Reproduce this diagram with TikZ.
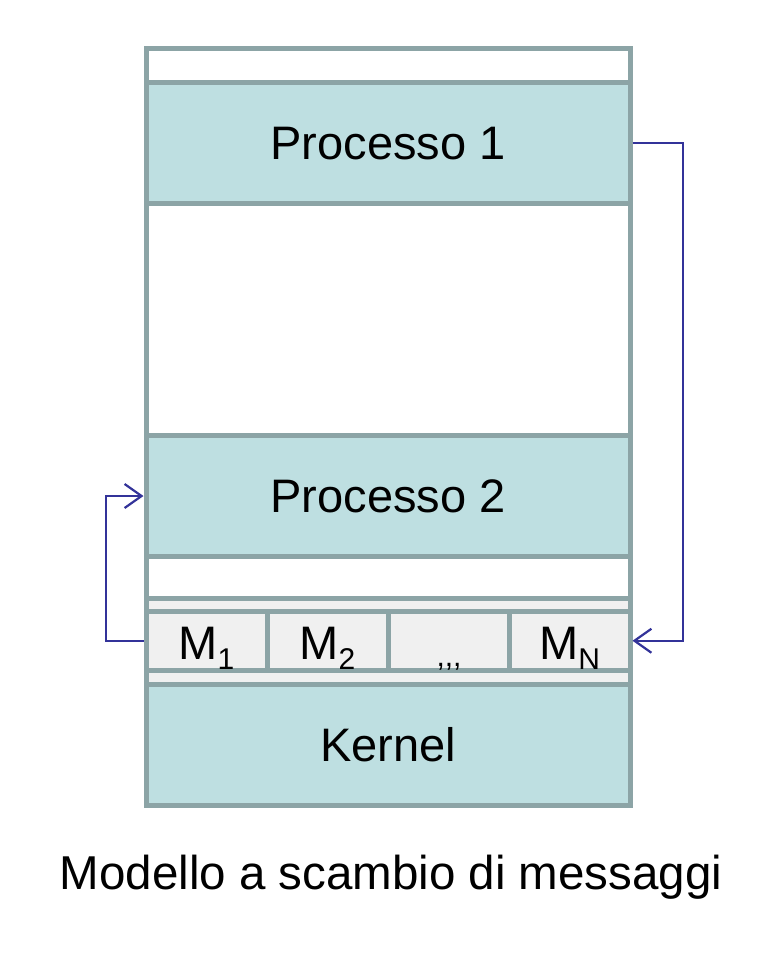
\documentclass[tikz,border=0pt]{standalone}
\usepackage{fontspec}
\setmainfont{Liberation Sans}
\usetikzlibrary{arrows.meta}
\definecolor{frameline}{HTML}{8CA4A6}
\definecolor{procfill}{HTML}{BEDFE1}
\definecolor{cellfill}{HTML}{F0F0F0}
\definecolor{arrowblue}{HTML}{333399}
\tikzset{
  blk/.style={draw=frameline, line width=5pt, rectangle, inner sep=0pt, minimum width=484pt},
  proc/.style={blk, fill=procfill, minimum height=121pt, font=\fontsize{47}{56}\selectfont},
  cell/.style={draw=frameline, line width=5pt, rectangle, inner sep=0pt, fill=cellfill,
               minimum width=121pt, minimum height=59.5pt, text height=36.5pt, text depth=0pt,
               font=\fontsize{47}{56}\selectfont},
  msg/.style={draw=arrowblue, line width=2.2pt, -{Straight Barb[length=17pt,width=24pt]}},
}
\newcommand{\sub}[1]{\raisebox{-10pt}{\fontsize{30}{30}\selectfont #1}}
\begin{document}
\begin{tikzpicture}[x=1pt,y=-1pt]
\useasboundingbox (0,0) rectangle (770,966);
% outer frame
\node[blk, fill=white, minimum height=756pt] (frame) at (388,427) {};
% processes
\node[proc] (p1) at (388,143.25) {Processo 1};
\node[proc] (p2) at (388,496) {Processo 2};
% message strip
\node[blk, fill=cellfill, minimum height=86.5pt] (strip) at (388,641.25) {};
\node[cell] (m1) at (206.5,640.75) {M\sub{1}};
\node[cell] (m2) at (327.5,640.75) {M\sub{2}};
\node[cell] (m3) at (448.5,640.75) {};
\node[font=\fontsize{30}{30}\selectfont, anchor=base] (dots) at (449,666) {{,}{,}{,}};
\node[cell] (mn) at (569.5,640.75) {M\sub{N}};
% kernel
\node[proc, minimum height=120.5pt] (kernel) at (388,744.75) {Kernel};
% caption
\node[font=\fontsize{47.5}{56}\selectfont, anchor=base] (caption) at (391,889) {Modello a scambio di messaggi};
% connectors
\coordinate (r1) at (683,143.25);
\coordinate (r2) at (683,640.75);
\coordinate (l1) at (106,640.75);
\coordinate (l2) at (106,496);
\draw[msg] (p1.east) -- (r1) -- (r2) -- (mn.east);
\draw[msg] (m1.west) -- (l1) -- (l2) -- (p2.west);
\end{tikzpicture}
\end{document}
